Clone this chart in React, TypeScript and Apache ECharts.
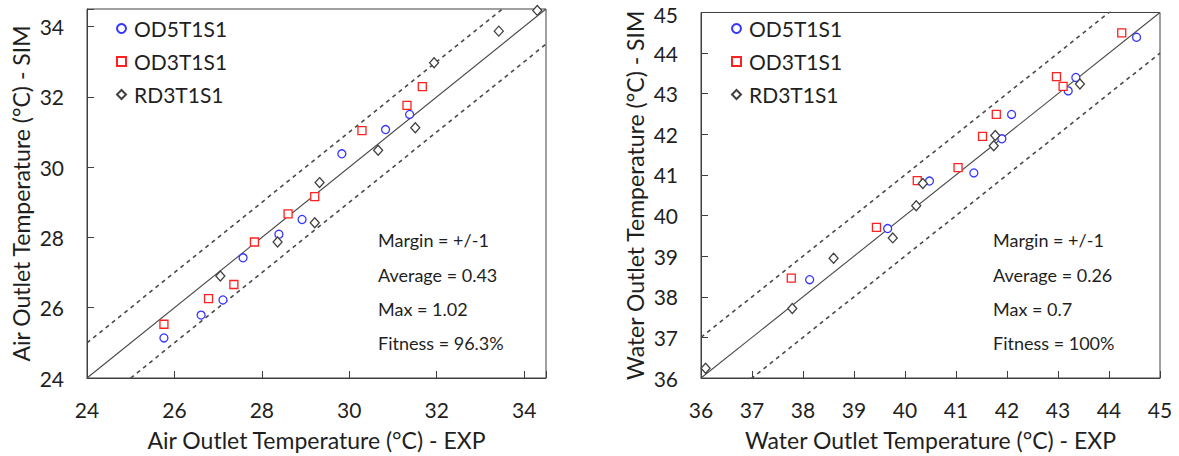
import React, { useEffect, useRef } from "react";
import * as echarts from "echarts";

// ---------- data ----------
const seriesNames = ["OD5T1S1", "OD3T1S1", "RD3T1S1"];

// Air outlet temperature (°C): EXP (x) vs SIM (y)
const airOD5Exp = [31.38, 30.83, 29.83, 28.92, 28.39, 27.57, 27.11, 26.61, 25.76];
const airOD5Sim = [31.5, 31.07, 30.38, 28.51, 28.09, 27.42, 26.22, 25.79, 25.14];
const airOD3Exp = [31.67, 31.32, 30.29, 29.21, 28.6, 27.83, 27.36, 26.78, 25.76];
const airOD3Sim = [32.29, 31.76, 31.04, 29.16, 28.67, 27.87, 26.66, 26.26, 25.53];
const airRD3Exp = [34.3, 33.42, 31.94, 31.51, 30.66, 29.32, 29.21, 28.36, 27.05];
const airRD3Sim = [34.46, 33.87, 32.97, 31.12, 30.48, 29.56, 28.42, 27.87, 26.9];

// Water outlet temperature (°C): EXP (x) vs SIM (y)
const waterOD5Exp = [44.54, 43.35, 43.2, 42.09, 41.9, 41.35, 40.48, 39.66, 38.13];
const waterOD5Sim = [44.39, 43.4, 43.07, 42.49, 41.89, 41.05, 40.85, 39.68, 38.42];
const waterOD3Exp = [44.25, 42.97, 43.1, 41.79, 41.52, 41.04, 40.24, 39.44, 37.77];
const waterOD3Sim = [44.5, 43.42, 43.18, 42.49, 41.95, 41.18, 40.86, 39.71, 38.46];
const waterRD3Exp = [43.43, 41.77, 41.74, 40.35, 40.22, 39.76, 38.6, 37.79, 36.09];
const waterRD3Sim = [43.24, 41.97, 41.72, 40.79, 40.24, 39.45, 38.95, 37.71, 36.24];

// axes
const airRange = [24, 34.5];
const airInterval = 2;
const waterRange = [36, 45];
const waterInterval = 1;
const margin = 1;

const airXName = "Air Outlet Temperature (°C) - EXP";
const airYName = "Air Outlet Temperature (°C) - SIM";
const waterXName = "Water Outlet Temperature (°C) - EXP";
const waterYName = "Water Outlet Temperature (°C) - SIM";

// statistics text
const statLabels = ["Margin", "Average", "Max", "Fitness"];
const airStatValues = ["+/-1", "0.43", "1.02", "96.3%"];
const waterStatValues = ["+/-1", "0.26", "0.7", "100%"];

// ---------- styles ----------
const FONT = "Lato, 'Liberation Sans', sans-serif";
const TEXT = "#1f1f1f";
const AXIS = "#404040";
const LINE = "#4a4a4a";
const colors = ["#3535ff", "#ff2020", "#404040"];
const symbols = ["circle", "rect", "diamond"];
const symbolSizes: any[] = [8, 8, [9, 10]];

const zip = (xs: number[], ys: number[]) => xs.map((x, i) => [x, ys[i]]);

function makeAxis(range: number[], interval: number, name: string, gridIndex: number, isY: boolean) {
  return {
    type: "value",
    gridIndex,
    min: range[0],
    max: range[1],
    interval,
    name,
    nameLocation: "middle",
    nameGap: isY ? 55 : 50,
    nameTextStyle: { fontFamily: FONT, fontSize: 23, color: TEXT },
    axisLine: { show: true, lineStyle: { color: AXIS, width: 1 } },
    axisTick: { show: true, inside: true, length: 7, lineStyle: { color: AXIS, width: 1 } },
    axisLabel: {
      fontFamily: FONT,
      fontSize: 21,
      lineHeight: 18,
      color: TEXT,
      margin: isY ? 23 : 22,
      formatter: (v: number) => {
        if ((v - range[0]) % interval !== 0) return "";
        if (isY && v === range[1]) return `{top|${v}}`;
        return String(v);
      },
      rich: {
        top: { fontFamily: FONT, fontSize: 21, lineHeight: 18, color: TEXT, padding: [4, 0, 0, 0] },
      },
    },
    splitLine: { show: false },
  };
}

function scatterSeries(idx: number, xs: number[], ys: number[], axisIndex: number) {
  return {
    type: "scatter",
    name: seriesNames[idx],
    xAxisIndex: axisIndex,
    yAxisIndex: axisIndex,
    symbol: symbols[idx],
    symbolSize: symbolSizes[idx],
    itemStyle: { color: "#ffffff", borderColor: colors[idx], borderWidth: 1.3, opacity: 1 },
    data: zip(xs, ys),
    z: 3,
  };
}

function refLines(range: number[], axisIndex: number) {
  const [lo, hi] = range;
  const mk = (off: number, dashed: boolean) => ({
    type: "line",
    xAxisIndex: axisIndex,
    yAxisIndex: axisIndex,
    showSymbol: false,
    symbol: "none",
    silent: true,
    clip: true,
    lineStyle: dashed
      ? { color: LINE, width: 1.6, type: [4, 4] }
      : { color: LINE, width: 1.1, type: "solid" },
    data: [
      [lo, lo + off],
      [hi, hi + off],
    ],
    z: 2,
  });
  return [mk(0, false), mk(margin, true), mk(-margin, true)];
}

function statTexts(values: string[], x: number) {
  const ys = [240, 274.5, 308.5, 342.5];
  return statLabels.map((label, i) => ({
    type: "text",
    x,
    y: ys[i],
    style: {
      text: `${label} = ${values[i]}`,
      font: `18px ${FONT}`,
      fill: TEXT,
      verticalAlign: "middle",
    },
  }));
}

export default function App() {
  const ref = useRef<HTMLDivElement>(null);
  useEffect(() => {
    if (!ref.current) return;
    const chart = echarts.init(ref.current, null, { renderer: "svg" });
    const legendBase = {
      orient: "vertical",
      top: 13,
      itemWidth: 9,
      itemHeight: 9,
      itemGap: 12,
      selectedMode: false,
      data: seriesNames,
      textStyle: { fontFamily: FONT, fontSize: 21, color: TEXT, padding: [0, 0, 0, 3] },
    };
    chart.setOption({
      animation: false,
      backgroundColor: "#ffffff",
      textStyle: { fontFamily: FONT },
      grid: [
        { left: 87, top: 9, width: 459, height: 369, show: true, borderColor: AXIS, borderWidth: 1, backgroundColor: "transparent" },
        { left: 701, top: 9, width: 459, height: 369, show: true, borderColor: AXIS, borderWidth: 1, backgroundColor: "transparent" },
      ],
      legend: [
        { ...legendBase, left: 111 },
        { ...legendBase, left: 726 },
      ],
      xAxis: [
        makeAxis(airRange, airInterval, airXName, 0, false),
        makeAxis(waterRange, waterInterval, waterXName, 1, false),
      ],
      yAxis: [
        makeAxis(airRange, airInterval, airYName, 0, true),
        makeAxis(waterRange, waterInterval, waterYName, 1, true),
      ],
      series: [
        ...refLines(airRange, 0),
        ...refLines(waterRange, 1),
        scatterSeries(0, airOD5Exp, airOD5Sim, 0),
        scatterSeries(1, airOD3Exp, airOD3Sim, 0),
        scatterSeries(2, airRD3Exp, airRD3Sim, 0),
        scatterSeries(0, waterOD5Exp, waterOD5Sim, 1),
        scatterSeries(1, waterOD3Exp, waterOD3Sim, 1),
        scatterSeries(2, waterRD3Exp, waterRD3Sim, 1),
      ],
      graphic: [...statTexts(airStatValues, 378), ...statTexts(waterStatValues, 993)],
    });
    return () => chart.dispose();
  }, []);
  return (
    <div
      ref={ref}
      style={{ position: "absolute", left: 0, top: 0, width: 1179, height: 456 }}
    />
  );
}
